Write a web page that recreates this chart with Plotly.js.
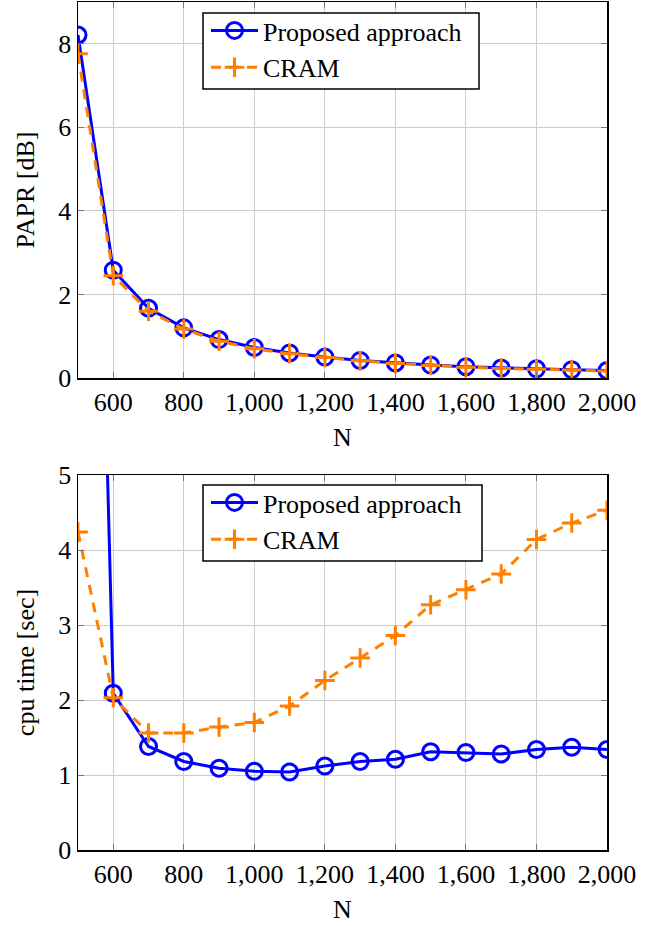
<!DOCTYPE html>
<html>
<head>
<meta charset="utf-8">
<script src="https://cdn.plot.ly/plotly-3.0.1.min.js"></script>
<style>html,body{margin:0;padding:0;background:#fff;}#chart{width:654px;height:926px;}</style>
</head>
<body>
<div id="chart"></div>
<script>
const N = [500, 600, 700, 800, 900, 1000, 1100, 1200, 1300, 1400, 1500, 1600, 1700, 1800, 1900, 2000];
const paprProposed = [8.21, 2.58, 1.67, 1.2, 0.92, 0.73, 0.6, 0.5, 0.42, 0.36, 0.31, 0.27, 0.24, 0.22, 0.2, 0.18];
const paprCRAM = [7.76, 2.45, 1.6, 1.17, 0.88, 0.7, 0.58, 0.49, 0.41, 0.35, 0.3, 0.26, 0.23, 0.21, 0.19, 0.17];
const cpuProposed = [20.0, 2.09, 1.38, 1.18, 1.09, 1.05, 1.04, 1.12, 1.18, 1.21, 1.31, 1.30, 1.28, 1.34, 1.37, 1.34];
const cpuCRAM = [4.24, 2.03, 1.56, 1.56, 1.64, 1.70, 1.92, 2.26, 2.56, 2.86, 3.27, 3.47, 3.68, 4.14, 4.36, 4.53];
const xTicks = [600, 800, 1000, 1200, 1400, 1600, 1800, 2000];
const seriesNames = ['Proposed approach', 'CRAM'];

const BLUE = '#0000ff', ORANGE = '#ff8000';
const FONT = 'Liberation Serif';
const FS = 26;

function blueTrace(y, xa, ya, lg) {
  return {x: N, y: y, xaxis: xa, yaxis: ya, legend: lg, name: seriesNames[0],
    type: 'scatter', mode: 'lines+markers',
    line: {color: BLUE, width: 3},
    marker: {symbol: 'circle-open', size: 16, color: BLUE, line: {width: 3, color: BLUE}}};
}
function orangeTrace(y, xa, ya, lg) {
  return {x: N, y: y, xaxis: xa, yaxis: ya, legend: lg, name: seriesNames[1],
    type: 'scatter', mode: 'lines+markers',
    line: {color: ORANGE, width: 3, dash: '10px,8px'},
    marker: {symbol: 'cross-thin', size: 14, color: ORANGE, line: {width: 3, color: ORANGE}}};
}

const data = [
  blueTrace(paprProposed, 'x', 'y', 'legend'),
  orangeTrace(paprCRAM, 'x', 'y', 'legend'),
  blueTrace(cpuProposed, 'x2', 'y2', 'legend2'),
  orangeTrace(cpuCRAM, 'x2', 'y2', 'legend2')
];

const tickFont = {family: FONT, size: FS, color: '#000'};
const axisCommon = {
  showline: true, linecolor: '#000', linewidth: 1.5, mirror: 'ticks',
  ticks: 'inside', ticklen: 6, tickcolor: '#777', tickwidth: 1,
  showgrid: true, gridcolor: '#cccccc', gridwidth: 1, zeroline: false
};

const L = 78, R = 607, TOP = 2, BOT = 850, H = 926;
function px2x(p) { return (p - L) / (R - L); }
function py2y(p) { return (BOT - p) / (BOT - TOP); }

const layout = {
  width: 654, height: H,
  margin: {l: L, r: 654 - R, t: TOP, b: H - BOT},
  paper_bgcolor: '#fff', plot_bgcolor: '#fff',
  font: {family: FONT, size: FS, color: '#000'},
  xaxis: Object.assign({}, axisCommon, {anchor: 'y', range: [500, 2000], tickvals: xTicks, tickformat: ',d', tickfont: tickFont,
    title: {text: 'N', font: {family: FONT, size: FS}, standoff: 12}}),
  yaxis: Object.assign({}, axisCommon, {domain: [0.5566, 1], anchor: 'x', range: [0, 9], tickvals: [0, 2, 4, 6, 8], tickfont: tickFont,
    title: {text: 'PAPR [dB]', font: {family: FONT, size: FS}, standoff: 16}}),
  xaxis2: Object.assign({}, axisCommon, {anchor: 'y2', range: [500, 2000], tickvals: xTicks, tickformat: ',d', tickfont: tickFont,
    title: {text: 'N', font: {family: FONT, size: FS}, standoff: 12}}),
  yaxis2: Object.assign({}, axisCommon, {domain: [0, 0.4422], anchor: 'x2', range: [0, 5], tickvals: [0, 1, 2, 3, 4, 5], tickfont: tickFont,
    title: {text: 'cpu time [sec]', font: {family: FONT, size: FS}, standoff: 16}}),
  shapes: [
    {type: 'rect', xref: 'paper', yref: 'paper', layer: 'above',
      x0: px2x(203), x1: px2x(479), y0: py2y(89), y1: py2y(13),
      fillcolor: '#fff', line: {color: '#000', width: 1.5}},
    {type: 'rect', xref: 'paper', yref: 'paper', layer: 'above',
      x0: px2x(203), x1: px2x(482), y0: py2y(561), y1: py2y(485),
      fillcolor: '#fff', line: {color: '#000', width: 1.5}}
  ],
  legend: {x: px2x(206), y: py2y(7), xanchor: 'left', yanchor: 'top', bgcolor: 'rgba(0,0,0,0)', borderwidth: 0,
    font: {family: FONT, size: FS}, tracegroupgap: 0, itemwidth: 47},
  legend2: {x: px2x(206), y: py2y(479), xanchor: 'left', yanchor: 'top', bgcolor: 'rgba(0,0,0,0)', borderwidth: 0,
    font: {family: FONT, size: FS}, tracegroupgap: 0, itemwidth: 47}
};

Plotly.newPlot('chart', data, layout, {displayModeBar: false, staticPlot: true});
</script>
</body>
</html>
